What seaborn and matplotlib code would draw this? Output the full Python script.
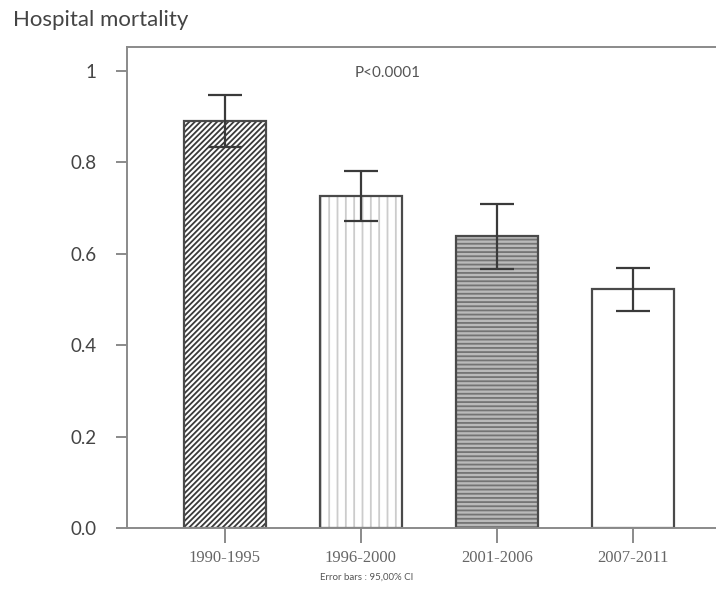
import numpy as np
import pandas as pd
from matplotlib import pyplot as plt
import seaborn as sns

periods = ['1990-1995', '1996-2000', '2001-2006', '2007-2011']
mortality = [0.89, 0.726, 0.639, 0.523]
ci_low = [0.834, 0.672, 0.567, 0.475]
ci_high = [0.947, 0.781, 0.709, 0.569]
ytick_vals = [0.0, 0.2, 0.4, 0.6, 0.8, 1.0]
ytick_labels = ['0.0', '0.2', '0.4', '0.6', '0.8', '1']

sns.set_style('white')
plt.rcParams['font.family'] = ['Lato', 'DejaVu Sans']
plt.rcParams['hatch.linewidth'] = 1.3

df = pd.DataFrame({'period': periods, 'mortality': mortality})

fig = plt.figure(figsize=(7.16, 5.91), dpi=100)
ax = fig.add_axes([127 / 716, 63 / 591, 640 / 716, 481 / 591])

faces = ['white', 'white', '#bababa', 'white']
hatches = ['//////', '||', '----', '']
hatch_cols = ['#3a3a3a', '#cccccc', '#747474', 'white']

sns.barplot(data=df, x='period', y='mortality', width=0.6, ax=ax,
            color='white', errorbar=None, linewidth=0)
for p, fc, h, hc in zip(ax.patches, faces, hatches, hatch_cols):
    p.set_facecolor(fc)
    p.set_hatch(h)
    p.set_edgecolor(hc)
    p.set_linewidth(0)

# outlines
x = np.arange(len(periods))
ax.bar(x, mortality, width=0.6, fill=False, edgecolor='#4a4a4a', linewidth=1.6)

err = [np.array(mortality) - np.array(ci_low), np.array(ci_high) - np.array(mortality)]
ax.errorbar(x, mortality, yerr=err, fmt='none', ecolor='#3a3a3a',
            elinewidth=1.6, capsize=12, capthick=1.6)

ax.set_xlim(-0.72, -0.72 + 640 / 136)
ax.set_ylim(0, 1.052)
ax.set_yticks(ytick_vals)
ax.set_yticklabels(ytick_labels)
ax.set_xlabel('')
ax.set_ylabel('')

for s in ['left', 'top', 'bottom']:
    ax.spines[s].set_color('#8a8a8a')
    ax.spines[s].set_linewidth(1.4)
ax.spines['right'].set_visible(False)

ax.tick_params(axis='y', left=True, length=8, width=1.4, color='#8a8a8a',
               labelsize=13.5, labelcolor='#444444', pad=14)
ax.tick_params(axis='x', bottom=True, length=11, width=1.4, color='#8a8a8a',
               labelsize=12, labelcolor='#666666', pad=5)
for lab in ax.get_xticklabels():
    lab.set_family(['Liberation Serif', 'DejaVu Serif'])

fig.text(13 / 716, 1 - 20 / 591, 'Hospital mortality', fontsize=16,
         color='#444444', va='center', ha='left')
fig.text(388 / 716, 1 - 73 / 591, 'P<0.0001', fontsize=11, color='#555555',
         va='center', ha='center')
fig.text(367 / 716, 1 - 577 / 591, 'Error bars : 95,00% CI', fontsize=7,
         color='#555555', va='center', ha='center')

fig.savefig('out.png', dpi=100)
